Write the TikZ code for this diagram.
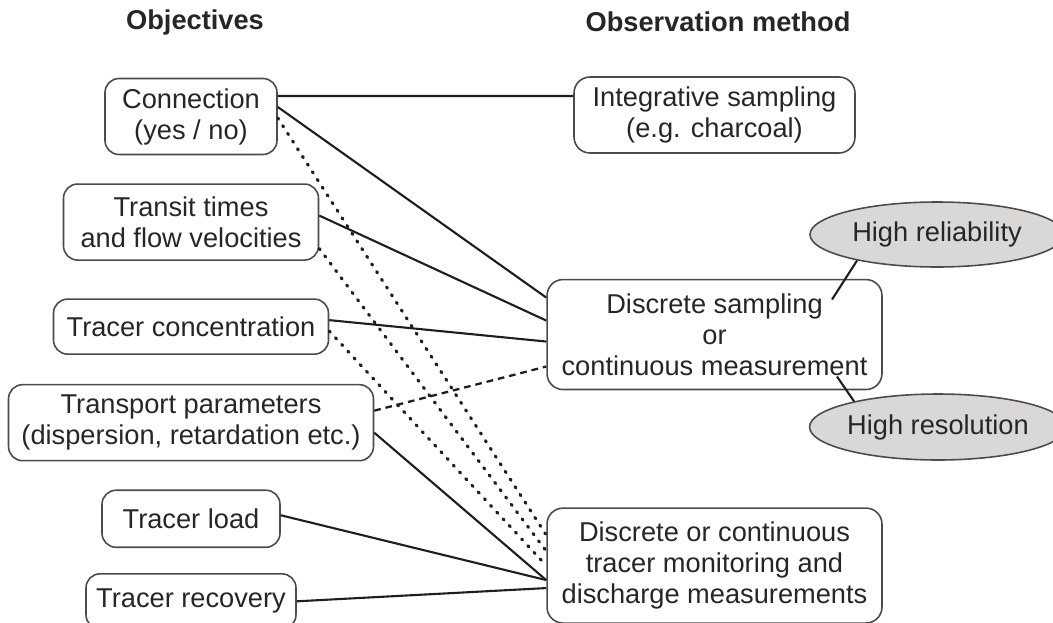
\documentclass[tikz,border=0pt]{standalone}
\usepackage{fontspec}
\setmainfont{Liberation Sans}
\usetikzlibrary{positioning,shapes.geometric}

\definecolor{boxline}{RGB}{75,75,75}
\definecolor{linkline}{RGB}{30,30,30}
\definecolor{ovalfill}{RGB}{218,216,214}

\begin{document}
\begin{tikzpicture}[x=0.02cm,y=0.02cm,node distance=0.56cm,
  font=\fontsize{15.5}{17.6}\selectfont,text=black!85]
\tikzstyle{goal}=[draw=boxline,line width=0.9pt,rounded corners=0.28cm,align=center,
  inner xsep=3pt,inner ysep=2pt,minimum height=1.1cm]
\tikzstyle{twoline}=[minimum height=1.52cm]
\tikzstyle{method}=[goal,rounded corners=0.32cm]
\tikzstyle{quality}=[ellipse,draw=boxline,line width=0.9pt,fill=ovalfill,inner sep=0pt,
  minimum width=5.08cm,minimum height=1.3cm]
\tikzstyle{head}=[font=\fontsize{15.5}{17.6}\selectfont\bfseries]
\tikzstyle{link}=[draw=linkline,line width=1.2pt]
\tikzstyle{dots}=[draw=linkline,line width=1.8pt,line cap=round,dash pattern=on 0.8pt off 4.4pt]
\tikzstyle{dashes}=[draw=linkline,line width=1.3pt,dash pattern=on 3.8pt off 2.8pt]

\useasboundingbox (0,0) rectangle (1053,-622);

% column titles
\node[head] (objtitle) at (195,-22) {Objectives};
\node[head] (obstitle) at (718,-22) {Observation method};

% objectives
\node[goal,twoline,minimum width=3.44cm] (conn) at (191,-116.5) {Connection\\(yes / no)};
\node[goal,twoline,minimum width=5.1cm] (transit) [below=of conn] {Transit times\\and flow velocities};
\node[goal,minimum width=5.5cm] (conc) [below=0.75cm of transit] {Tracer concentration};
\node[goal,twoline,minimum width=7.3cm] (transport) [below=0.58cm of conc] {Transport parameters\\(dispersion, retardation etc.)};
\node[goal,minimum width=3.56cm,minimum height=1.14cm] (load) [below=of transport] {Tracer load};
\node[goal,minimum width=4.2cm] (recov) [below=0.5cm of load] {Tracer recovery};

% observation methods
\node[method,twoline,minimum width=5.62cm] (integ) at (714.5,-115) {Integrative sampling\\(e.g. charcoal)};
\node[method,minimum width=6.7cm,minimum height=2.2cm] (discr) [below=2.5cm of integ] {Discrete sampling\\or\\continuous measurement};
\node[method,minimum width=6.7cm,minimum height=2.3cm] (monit) [below=2.34cm of discr] {Discrete or continuous\\tracer monitoring and\\discharge measurements};

\node[quality] (reliab) at (937,-234.5) {High reliability};
\node[quality,minimum width=5cm,minimum height=1.32cm] (resol) at (938,-427) {High resolution};

% links between objectives and methods
\draw[link] ([yshift=0.41cm]conn.east) -- ([yshift=0.38cm]integ.west);
\draw[link] ([yshift=0.19cm]conn.east) -- ([yshift=0.74cm]discr.west);
\draw[link] ([yshift=0.13cm]transit.east) -- ([yshift=0.28cm]discr.west);
\draw[link] ([yshift=0.13cm]conc.east) -- ([yshift=-0.14cm]discr.west);
\draw[link] ([yshift=-0.2cm]transport.east) -- ([yshift=-0.29cm]monit.west);
\draw[link] ([yshift=0.07cm]load.east) -- ([yshift=-0.29cm]monit.west);
\draw[link] (recov.east) -- ([yshift=-0.45cm]monit.west);
\draw[dots] ([yshift=-0.03cm]conn.east) -- ([yshift=0.61cm]monit.west);
\draw[dots] ([yshift=-0.53cm]transit.east) -- ([yshift=0.29cm]monit.west);
\draw[dots] ([yshift=-0.09cm]conc.east) -- (monit.west);
\draw[dashes] ([yshift=0.24cm]transport.east) -- ([yshift=-0.64cm]discr.west);

% qualities of the discrete / continuous method
\draw[link] ([xshift=2.35cm,yshift=0.7cm]discr.center) -- (reliab.198);
\draw[link] ([xshift=2.45cm,yshift=-0.84cm]discr.center) -- (resol.163);
\end{tikzpicture}
\end{document}
